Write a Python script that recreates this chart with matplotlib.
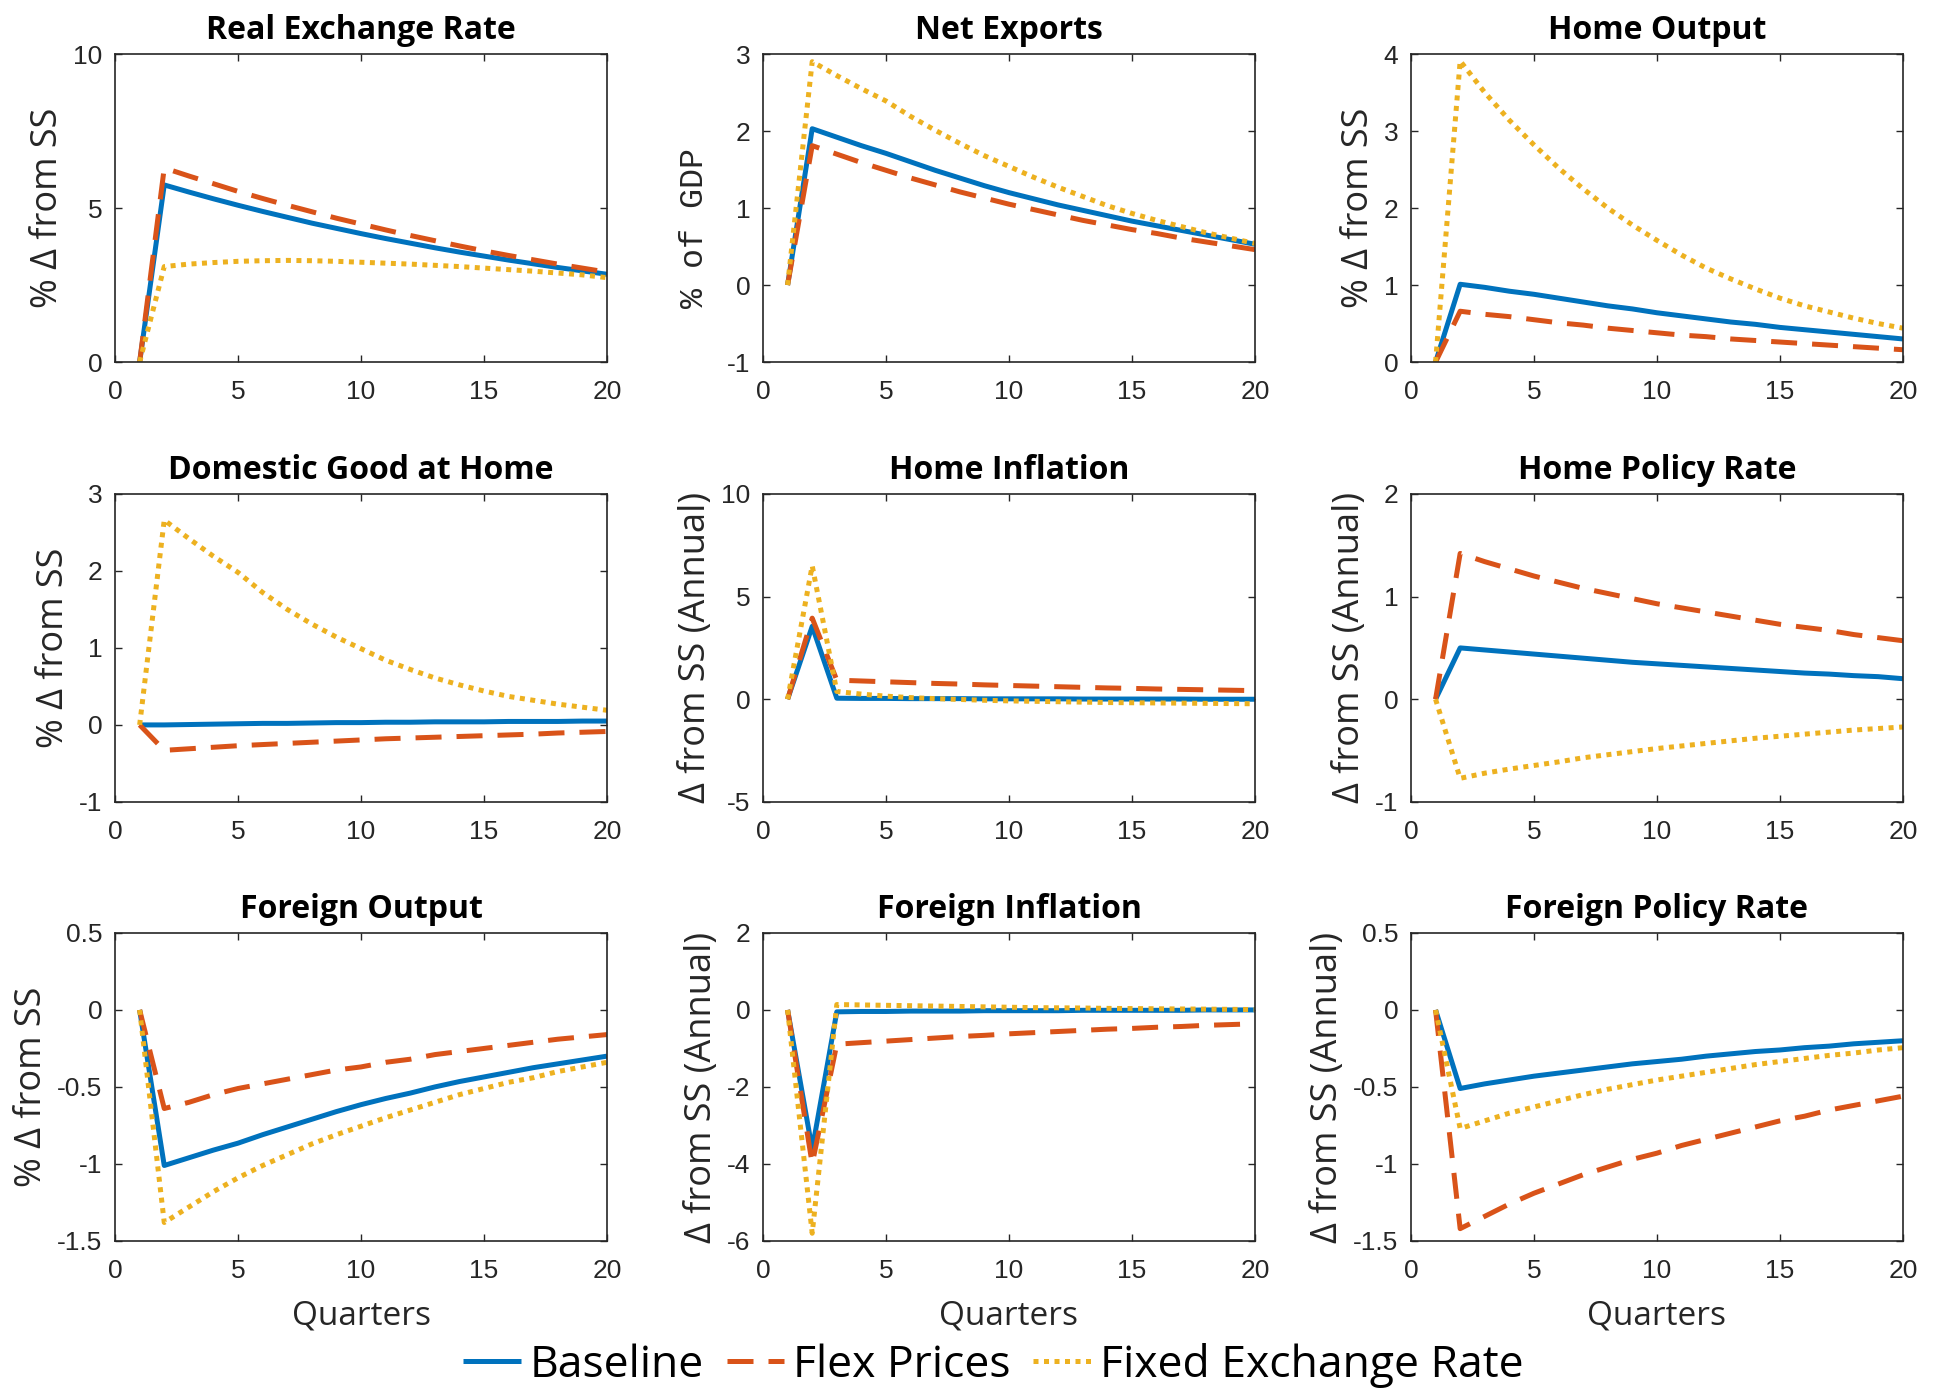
import matplotlib
matplotlib.use('Agg')
import matplotlib.pyplot as plt

# Impulse responses, quarters 1..20
quarters = list(range(1, 21))

rer_base = [0, 5.75, 5.52, 5.30, 5.09, 4.89, 4.70, 4.51, 4.34, 4.17, 4.01, 3.86, 3.71, 3.57, 3.44, 3.31, 3.19, 3.07, 2.96, 2.85]
rer_flex = [0, 6.30, 6.04, 5.79, 5.54, 5.31, 5.09, 4.88, 4.67, 4.48, 4.29, 4.11, 3.94, 3.77, 3.61, 3.46, 3.32, 3.18, 3.05, 2.92]
rer_fix = [0, 3.10, 3.18, 3.23, 3.27, 3.29, 3.30, 3.29, 3.27, 3.24, 3.21, 3.18, 3.14, 3.10, 3.05, 3.00, 2.95, 2.89, 2.83, 2.74]

nx_base = [0, 2.03, 1.92, 1.81, 1.71, 1.60, 1.49, 1.39, 1.29, 1.20, 1.12, 1.04, 0.97, 0.90, 0.83, 0.77, 0.71, 0.65, 0.59, 0.53]
nx_flex = [0, 1.81, 1.70, 1.59, 1.49, 1.39, 1.30, 1.21, 1.13, 1.05, 0.98, 0.91, 0.84, 0.78, 0.72, 0.67, 0.61, 0.56, 0.51, 0.46]
nx_fix = [0, 2.90, 2.72, 2.55, 2.39, 2.19, 2.01, 1.84, 1.68, 1.54, 1.40, 1.27, 1.15, 1.03, 0.93, 0.84, 0.76, 0.68, 0.61, 0.54]

y_base = [0, 1.01, 0.97, 0.92, 0.88, 0.83, 0.78, 0.73, 0.69, 0.64, 0.60, 0.56, 0.52, 0.49, 0.45, 0.42, 0.39, 0.36, 0.33, 0.30]
y_flex = [0, 0.66, 0.62, 0.59, 0.55, 0.51, 0.48, 0.44, 0.41, 0.38, 0.35, 0.33, 0.30, 0.28, 0.26, 0.24, 0.22, 0.20, 0.18, 0.16]
y_fix = [0, 3.91, 3.50, 3.14, 2.82, 2.52, 2.25, 2.00, 1.78, 1.58, 1.39, 1.22, 1.08, 0.95, 0.83, 0.73, 0.65, 0.57, 0.50, 0.44]

dom_base = [0, 0.0, 0.005, 0.01, 0.015, 0.02, 0.02, 0.025, 0.03, 0.03, 0.035, 0.035, 0.04, 0.04, 0.04, 0.045, 0.045, 0.045, 0.05, 0.05]
dom_flex = [0, -0.33, -0.31, -0.29, -0.27, -0.255, -0.24, -0.225, -0.21, -0.195, -0.18, -0.17, -0.16, -0.15, -0.14, -0.13, -0.12, -0.105, -0.095, -0.085]
dom_fix = [0, 2.66, 2.42, 2.19, 1.98, 1.72, 1.50, 1.31, 1.14, 0.99, 0.84, 0.72, 0.61, 0.52, 0.44, 0.37, 0.32, 0.27, 0.23, 0.19]

pi_base = [0, 3.55, 0.05, 0.04, 0.04, 0.03, 0.03, 0.03, 0.02, 0.02, 0.02, 0.02, 0.01, 0.01, 0.01, 0.01, 0.01, 0.0, 0.0, 0.0]
pi_flex = [0, 3.95, 0.93, 0.89, 0.85, 0.81, 0.77, 0.74, 0.70, 0.67, 0.64, 0.61, 0.58, 0.55, 0.53, 0.50, 0.48, 0.46, 0.44, 0.42]
pi_fix = [0, 6.50, 0.38, 0.25, 0.15, 0.08, 0.03, -0.01, -0.05, -0.08, -0.10, -0.12, -0.14, -0.16, -0.17, -0.18, -0.19, -0.20, -0.21, -0.22]

i_base = [0, 0.50, 0.48, 0.46, 0.44, 0.42, 0.40, 0.38, 0.36, 0.345, 0.33, 0.315, 0.30, 0.285, 0.27, 0.255, 0.245, 0.23, 0.22, 0.20]
i_flex = [0, 1.42, 1.34, 1.27, 1.20, 1.14, 1.08, 1.03, 0.98, 0.93, 0.89, 0.85, 0.81, 0.77, 0.73, 0.70, 0.67, 0.63, 0.60, 0.57]
i_fix = [0, -0.77, -0.72, -0.68, -0.645, -0.61, -0.57, -0.54, -0.51, -0.48, -0.455, -0.43, -0.405, -0.38, -0.36, -0.34, -0.32, -0.30, -0.285, -0.27]

ys_base = [0, -1.01, -0.96, -0.91, -0.865, -0.81, -0.76, -0.71, -0.66, -0.615, -0.575, -0.54, -0.50, -0.465, -0.435, -0.405, -0.375, -0.35, -0.325, -0.30]
ys_flex = [0, -0.64, -0.60, -0.55, -0.51, -0.48, -0.45, -0.42, -0.39, -0.37, -0.34, -0.32, -0.29, -0.27, -0.25, -0.23, -0.21, -0.19, -0.175, -0.16]
ys_fix = [0, -1.38, -1.28, -1.18, -1.09, -1.01, -0.94, -0.87, -0.81, -0.755, -0.70, -0.65, -0.60, -0.55, -0.51, -0.47, -0.44, -0.40, -0.37, -0.34]

pis_base = [0, -3.62, -0.05, -0.04, -0.04, -0.03, -0.03, -0.03, -0.02, -0.02, -0.02, -0.02, -0.01, -0.01, -0.01, -0.01, -0.01, 0.0, 0.0, 0.0]
pis_flex = [0, -4.00, -0.89, -0.85, -0.81, -0.77, -0.73, -0.69, -0.66, -0.62, -0.59, -0.56, -0.53, -0.50, -0.48, -0.45, -0.43, -0.40, -0.38, -0.36]
pis_fix = [0, -5.80, 0.14, 0.13, 0.12, 0.11, 0.10, 0.09, 0.08, 0.07, 0.06, 0.055, 0.05, 0.04, 0.035, 0.03, 0.025, 0.02, 0.015, 0.01]

is_base = [0, -0.51, -0.48, -0.455, -0.43, -0.41, -0.39, -0.37, -0.35, -0.335, -0.32, -0.30, -0.285, -0.27, -0.26, -0.245, -0.235, -0.22, -0.21, -0.20]
is_flex = [0, -1.42, -1.34, -1.26, -1.19, -1.13, -1.07, -1.02, -0.97, -0.93, -0.88, -0.84, -0.80, -0.76, -0.72, -0.69, -0.65, -0.62, -0.59, -0.56]
is_fix = [0, -0.77, -0.72, -0.67, -0.63, -0.59, -0.55, -0.515, -0.485, -0.455, -0.43, -0.405, -0.38, -0.355, -0.335, -0.315, -0.295, -0.28, -0.26, -0.245]

titles = ['Real Exchange Rate', 'Net Exports', 'Home Output',
          'Domestic Good at Home', 'Home Inflation', 'Home Policy Rate',
          'Foreign Output', 'Foreign Inflation', 'Foreign Policy Rate']
ylabels = ['% \u0394 from SS', '% of GDP', '% \u0394 from SS',
           '% \u0394 from SS', '\u0394 from SS (Annual)', '\u0394 from SS (Annual)',
           '% \u0394 from SS', '\u0394 from SS (Annual)', '\u0394 from SS (Annual)']
ylims = [(0, 10), (-1, 3), (0, 4), (-1, 3), (-5, 10), (-1, 2),
         (-1.5, 0.5), (-6, 2), (-1.5, 0.5)]
yticks = [[0, 5, 10], [-1, 0, 1, 2, 3], [0, 1, 2, 3, 4], [-1, 0, 1, 2, 3],
          [-5, 0, 5, 10], [-1, 0, 1, 2], [-1.5, -1, -0.5, 0, 0.5],
          [-6, -4, -2, 0, 2], [-1.5, -1, -0.5, 0, 0.5]]
panels = [(rer_base, rer_flex, rer_fix), (nx_base, nx_flex, nx_fix),
          (y_base, y_flex, y_fix), (dom_base, dom_flex, dom_fix),
          (pi_base, pi_flex, pi_fix), (i_base, i_flex, i_fix),
          (ys_base, ys_flex, ys_fix), (pis_base, pis_flex, pis_fix),
          (is_base, is_flex, is_fix)]

BLUE = '#0072BD'
RED = '#D95319'
YELLOW = '#EDB120'
AXC = '#262626'
LW = 3.6

fig = plt.figure(figsize=(19.4, 13.92), dpi=100)
lefts = [0.0593, 0.3933, 0.7273]
bottoms = [0.7399, 0.4239, 0.1085]
w, h = 0.2536, 0.2213

sans = ['Open Sans', 'DejaVu Sans']

for k in range(9):
    r, c = divmod(k, 3)
    ax = fig.add_axes([lefts[c], bottoms[r], w, h])
    base, flex, fix = panels[k]
    lb, = ax.plot(quarters, base, color=BLUE, lw=LW, solid_capstyle='butt')
    lf, = ax.plot(quarters, flex, color=RED, lw=LW, dashes=(5.2, 3.0), dash_capstyle='butt')
    lx, = ax.plot(quarters, fix, color=YELLOW, lw=LW, dashes=(1.0, 1.1), dash_capstyle='butt')
    ax.set_xlim(0, 20)
    ax.set_xticks([0, 5, 10, 15, 20])
    ax.set_ylim(*ylims[k])
    ax.set_yticks(yticks[k])
    ax.set_yticklabels([('%g' % v) for v in yticks[k]])
    ax.tick_params(direction='in', length=5, width=1, top=True, right=True,
                   labelsize=19, colors=AXC, pad=9)
    ax.tick_params(axis='x', pad=13)
    for lab in ax.get_xticklabels() + ax.get_yticklabels():
        lab.set_fontfamily('Liberation Sans')
    for s in ax.spines.values():
        s.set_color(AXC)
        s.set_linewidth(1.2)
    ax.set_title(titles[k], fontsize=23, fontweight='bold', family=sans, pad=11)
    if k == 1:
        ax.set_ylabel(ylabels[k] + '  ', fontsize=24, family='Liberation Mono', color=AXC, labelpad=12)
    else:
        ax.set_ylabel(ylabels[k], fontsize=26, family=sans, color=AXC, labelpad=5)
    if r == 2:
        ax.set_xlabel('Quarters', fontsize=24, family=sans, color=AXC, labelpad=12)

fig.legend([lb, lf, lx], ['Baseline', 'Flex Prices', 'Fixed Exchange Rate'],
           loc='center', bbox_to_anchor=(0.512, 0.019), ncol=3, frameon=False,
           prop={'family': 'Open Sans', 'size': 32}, handlelength=1.3,
           handletextpad=0.2, columnspacing=0.5, borderaxespad=0)

fig.savefig('out.png', dpi=100)
